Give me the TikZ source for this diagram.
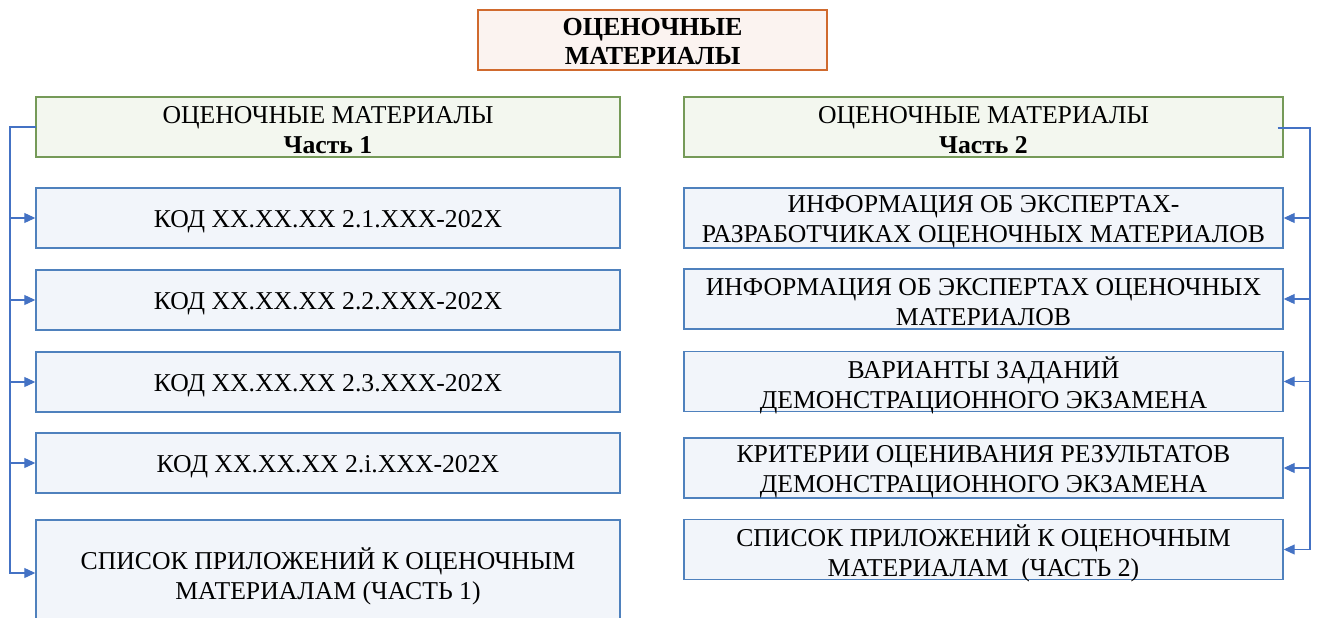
\documentclass[tikz,border=0pt]{standalone}
\usepackage{fontspec}
\setmainfont{Liberation Serif}
\usetikzlibrary{arrows.meta}
\definecolor{bluefill}{HTML}{F2F5FA}
\definecolor{blueline}{HTML}{4F81BD}
\definecolor{connline}{HTML}{4472C4}
\definecolor{greenfill}{HTML}{F3F7EF}
\definecolor{greenline}{HTML}{759A58}
\definecolor{titlefill}{HTML}{FBF3F0}
\definecolor{titleline}{HTML}{D06A2E}
\tikzset{
  base/.style={rectangle, inner sep=0pt, line width=1.4pt},
  tx/.style={inner sep=0pt, align=center, font=\fontsize{25.7}{30}\selectfont, yshift=-3.5pt},
  ttx/.style={inner sep=0pt, align=center, font=\fontsize{26}{29.5}\selectfont\bfseries, yshift=-1.5pt},
  bluebox/.style={base, draw=blueline, fill=bluefill},
  greenbox/.style={base, draw=greenline, fill=greenfill},
  titlebox/.style={base, draw=titleline, fill=titlefill, line width=1.2pt},
  conn/.style={draw=connline, line width=1.1pt},
  arr/.style={conn, -{Triangle[length=11pt,width=10pt]}}
}
\begin{document}
\begin{tikzpicture}[x=1pt,y=-1pt]
\useasboundingbox (0,0) rectangle (1317,618);
% title
\node[titlebox, minimum width=349pt, minimum height=60pt, label={[ttx]center:{ОЦЕНОЧНЫЕ\\МАТЕРИАЛЫ}}] (t) at (652.5,40) {};
% left column
\node[greenbox, minimum width=584pt, minimum height=60pt, label={[tx]center:{ОЦЕНОЧНЫЕ МАТЕРИАЛЫ\\\textbf{Часть 1}}}] (lh) at (328,127) {};
\node[bluebox, minimum width=584pt, minimum height=60pt, label={[tx]center:{КОД XX.XX.XX 2.1.XXX-202X}}] (l1) at (328,218) {};
\node[bluebox, minimum width=584pt, minimum height=60pt, label={[tx]center:{КОД XX.XX.XX 2.2.XXX-202X}}] (l2) at (328,300) {};
\node[bluebox, minimum width=584pt, minimum height=60pt, label={[tx]center:{КОД XX.XX.XX 2.3.XXX-202X}}] (l3) at (328,382) {};
\node[bluebox, minimum width=584pt, minimum height=60pt, label={[tx]center:{КОД XX.XX.XX 2.i.XXX-202X}}] (l4) at (328,463) {};
\node[bluebox, minimum width=584pt, minimum height=106pt, label={[tx]center:{СПИСОК ПРИЛОЖЕНИЙ К ОЦЕНОЧНЫМ\\МАТЕРИАЛАМ (ЧАСТЬ 1)}}] (l5) at (328,573) {};
% right column
\node[greenbox, minimum width=599pt, minimum height=60pt, label={[tx]center:{ОЦЕНОЧНЫЕ МАТЕРИАЛЫ\\\textbf{Часть 2}}}] (rh) at (983.5,127) {};
\node[bluebox, minimum width=599pt, minimum height=60pt, label={[tx]center:{ИНФОРМАЦИЯ ОБ ЭКСПЕРТАХ-\\РАЗРАБОТЧИКАХ ОЦЕНОЧНЫХ МАТЕРИАЛОВ}}] (r1) at (983.5,218) {};
\node[bluebox, minimum width=599pt, minimum height=60pt, label={[tx]center:{ИНФОРМАЦИЯ ОБ ЭКСПЕРТАХ ОЦЕНОЧНЫХ\\МАТЕРИАЛОВ}}] (r2) at (983.5,299) {};
\node[bluebox, minimum width=599pt, minimum height=60pt, label={[tx]center:{ВАРИАНТЫ ЗАДАНИЙ\\ДЕМОНСТРАЦИОННОГО ЭКЗАМЕНА}}] (r3) at (983.5,381.5) {};
\node[bluebox, minimum width=599pt, minimum height=60pt, label={[tx]center:{КРИТЕРИИ ОЦЕНИВАНИЯ РЕЗУЛЬТАТОВ\\ДЕМОНСТРАЦИОННОГО ЭКЗАМЕНА}}] (r4) at (983.5,468) {};
\node[bluebox, minimum width=599pt, minimum height=60pt, label={[tx]center:{СПИСОК ПРИЛОЖЕНИЙ К ОЦЕНОЧНЫМ\\МАТЕРИАЛАМ\ \ (ЧАСТЬ 2)}}] (r5) at (983.5,549.5) {};
% left connectors
\coordinate (lb) at (10,127);
\draw[arr] ([xshift=1pt]lh.west) -- (lb) |- (l5.west);
\foreach \n in {l1,l2,l3,l4} \draw[arr] (\n.west -| lb) -- (\n.west);
% right connectors
\coordinate (rb) at (1310,128);
\draw[arr] ([xshift=-6pt,yshift=-1pt]rh.east) -- (rb) |- (r5.east);
\foreach \n in {r1,r2,r3,r4} \draw[arr] (\n.east -| rb) -- (\n.east);
\end{tikzpicture}
\end{document}
